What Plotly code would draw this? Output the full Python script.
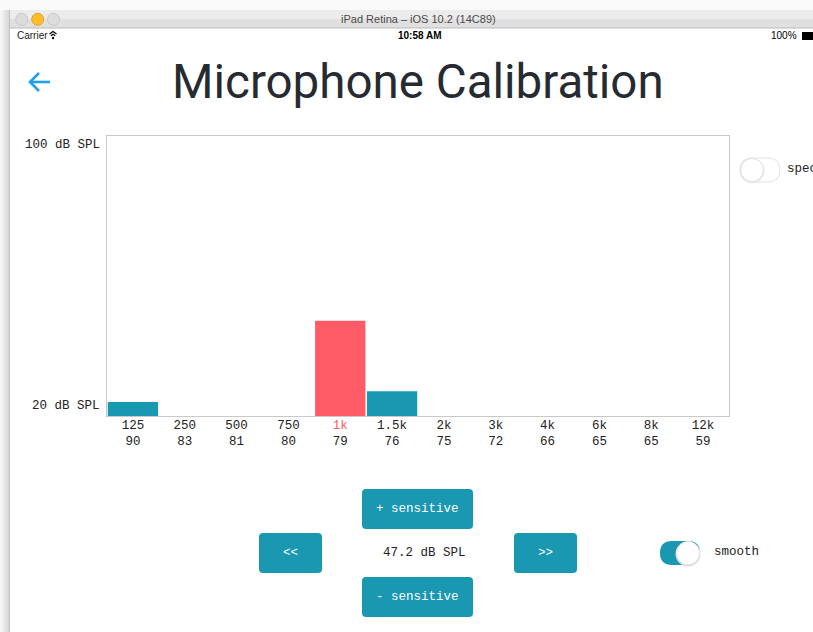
import plotly.graph_objects as go

W, H = 813, 632

# ---- data ----
freq_labels = ["125", "250", "500", "750", "1k", "1.5k", "2k", "3k", "4k", "6k", "8k", "12k"]
sensitivity = [90, 83, 81, 80, 79, 76, 75, 72, 66, 65, 65, 59]
levels_db = [24.0, 0, 0, 0, 47.2, 27.1, 0, 0, 0, 0, 0, 0]
selected = "1k"
y_range = [20, 100]
y_labels = ["20 dB SPL", "100 dB SPL"]
current_reading = "47.2 dB SPL"

TEAL = "#1a98b2"
RED = "#ff5b67"
MONO = "Courier New, Liberation Mono, monospace"
SANS = "Helvetica, Liberation Sans, Arial, sans-serif"

def px(x):
    return x / W

def py(y):
    return 1 - y / H

bar_colors = [RED if f == selected else TEAL for f in freq_labels]
tick_text = []
for f, s in zip(freq_labels, sensitivity):
    if f == selected:
        tick_text.append('<span style="color:%s">%s</span><br>%d' % (RED, f, s))
    else:
        tick_text.append("%s<br>%d" % (f, s))

fig = go.Figure()
fig.add_trace(go.Bar(
    x=freq_labels, y=levels_db,
    marker=dict(color=bar_colors, line=dict(width=0)),
    hoverinfo="skip",
))

# plot area in pixels
PX0, PX1, PY0, PY1 = 107, 729, 136, 416

fig.update_layout(
    width=W, height=H,
    margin=dict(l=0, r=0, t=0, b=0),
    paper_bgcolor="white", plot_bgcolor="white",
    showlegend=False,
    bargap=0.03,
    xaxis=dict(
        domain=[px(PX0), px(PX1)],
        tickmode="array", tickvals=freq_labels, ticktext=tick_text,
        tickfont=dict(family=MONO, size=12.5, color="#222"),
        showline=True, linecolor="#c9c9c9", linewidth=1, mirror=True,
        showgrid=False, zeroline=False, ticks="", ticklabelstandoff=-3,
        fixedrange=True,
    ),
    yaxis=dict(
        domain=[py(PY1), py(PY0)],
        range=y_range, showticklabels=False,
        showline=True, linecolor="#c9c9c9", linewidth=1, mirror=True,
        showgrid=False, zeroline=False, ticks="", fixedrange=True,
    ),
)

shapes = []
ann = []

def rrect(x0, y0, x1, y1, r, fill, line_color=None, lw=0):
    rx, ry = r / W, r / H
    X0, X1 = px(x0), px(x1)
    Y0, Y1 = py(y0), py(y1)  # Y0 top (bigger), Y1 bottom
    p = (f"M {X0+rx},{Y0} L {X1-rx},{Y0} Q {X1},{Y0} {X1},{Y0-ry} "
         f"L {X1},{Y1+ry} Q {X1},{Y1} {X1-rx},{Y1} L {X0+rx},{Y1} "
         f"Q {X0},{Y1} {X0},{Y1+ry} L {X0},{Y0-ry} Q {X0},{Y0} {X0+rx},{Y0} Z")
    shapes.append(dict(type="path", xref="paper", yref="paper", path=p,
                       fillcolor=fill, line=dict(color=line_color or fill, width=lw),
                       layer="above"))

def rect(x0, y0, x1, y1, fill, line_color=None, lw=0):
    shapes.append(dict(type="rect", xref="paper", yref="paper",
                       x0=px(x0), x1=px(x1), y0=py(y1), y1=py(y0),
                       fillcolor=fill, line=dict(color=line_color or fill, width=lw),
                       layer="above"))

def circle(cx, cy, r, fill, line_color=None, lw=0):
    shapes.append(dict(type="circle", xref="paper", yref="paper",
                       x0=px(cx - r), x1=px(cx + r), y0=py(cy + r), y1=py(cy - r),
                       fillcolor=fill, line=dict(color=line_color or fill, width=lw),
                       layer="above"))

def line(path_pts, color, width):
    p = " ".join(("M" if i == 0 else "L") + f" {px(x)},{py(y)}" for i, (x, y) in enumerate(path_pts))
    shapes.append(dict(type="path", xref="paper", yref="paper", path=p,
                       line=dict(color=color, width=width), layer="above"))

def text(x, y, s, size, color="#222", family=MONO, xanchor="center", bold=False):
    ann.append(dict(xref="paper", yref="paper", x=px(x), y=py(y), text=("<b>%s</b>" % s) if bold else s,
                    showarrow=False, xanchor=xanchor, yanchor="middle",
                    font=dict(family=family, size=size, color=color)))

# ---- window chrome ----
# left shadow
for i, c in enumerate(["#f6f6f6", "#eeeeee", "#e6e6e6", "#dedede", "#d6d6d6"]):
    rect(i * 2, 10, i * 2 + 2, H, c)
rect(9.3, 10, 10, H, "#bdbdbd")
rect(0, 0, W, 10, "#fafafa")
# title bar
rect(10, 10, W + 2, 19, "#ececec")
rect(10, 19, W + 2, 28, "#e0e0e0")
rect(10, 27.5, W + 2, 28.5, "#bababa")
circle(21.7, 19.3, 6, "#dcdcdc", "#c8c8c8", 1)
circle(37.7, 19.3, 6, "#fdbc2c", "#e3a21f", 1)
circle(53.5, 19.3, 6, "#dcdcdc", "#c8c8c8", 1)
text(418, 19, "iPad Retina – iOS 10.2 (14C89)", 11, "#4a4a4a", SANS)
# status bar
text(15, 36, "Carrier", 10, "#222", SANS, xanchor="left")
# wifi icon
line([(49.5, 34), (53, 31.5), (56.5, 34)], "#000", 1.2)
line([(50.8, 35.8), (53, 34.2), (55.2, 35.8)], "#000", 1.2)
circle(53, 38, 1.2, "#000")
text(420, 36, "10:58 AM", 10, "#000", SANS, bold=True)
text(799, 36, "100%", 10, "#000", SANS, xanchor="right")
rect(802, 32, 815, 40, "#000")

# ---- header ----
line([(50, 82), (30, 82)], "#1e9ff2", 2.6)
line([(39, 73), (30, 82), (39, 91)], "#1e9ff2", 2.6)
text(418, 82, "Microphone Calibration", 47.5, "#262b31", "Roboto, sans-serif")

# ---- y labels ----
ann.append(dict(xref="paper", yref="y", x=px(102), y=y_range[1], text=y_labels[1], showarrow=False,
                xanchor="right", yanchor="top", font=dict(family=MONO, size=12.5, color="#222")))
ann.append(dict(xref="paper", yref="y", x=px(102), y=y_range[0], text=y_labels[0], showarrow=False,
                xanchor="right", yanchor="bottom", yshift=1, font=dict(family=MONO, size=12.5, color="#222")))

# ---- spectrum toggle (off) ----
rrect(740, 158, 780, 182, 12, "#ffffff", "#e2e2e2", 1)
circle(752, 171, 12.5, "#ececec")
circle(752, 170, 11.5, "#ffffff", "#d6d6d6", 0.8)
text(785, 169, "spec", 12.5, "#222", xanchor="left")

# ---- buttons ----
rrect(362, 489, 473, 529, 4, TEAL)
text(417.5, 509, "+ sensitive", 12.5, "#ffffff")
rrect(259, 533, 322, 573, 4, TEAL)
text(290.5, 553, "&lt;&lt;", 12.5, "#ffffff")
rrect(514, 533, 577, 573, 4, TEAL)
text(545.5, 553, "&gt;&gt;", 12.5, "#ffffff")
rrect(362, 577, 473, 617, 4, TEAL)
text(417.5, 597, "- sensitive", 12.5, "#ffffff")
text(424, 553, current_reading, 12.5, "#222")

# ---- smooth toggle (on) ----
rrect(660, 541, 700, 565, 12, TEAL)
circle(688, 554, 12.5, "#dcdcdc")
circle(688, 553, 11.5, "#ffffff", "#e6e6e6", 0.8)
text(712, 552, "smooth", 12.5, "#222", xanchor="left")

fig.update_layout(shapes=shapes, annotations=ann)
fig.write_html(
    "out.html",
    config={"displayModeBar": False, "staticPlot": True},
    post_script="document.body.style.margin='0';document.body.style.overflow='hidden';",
)
